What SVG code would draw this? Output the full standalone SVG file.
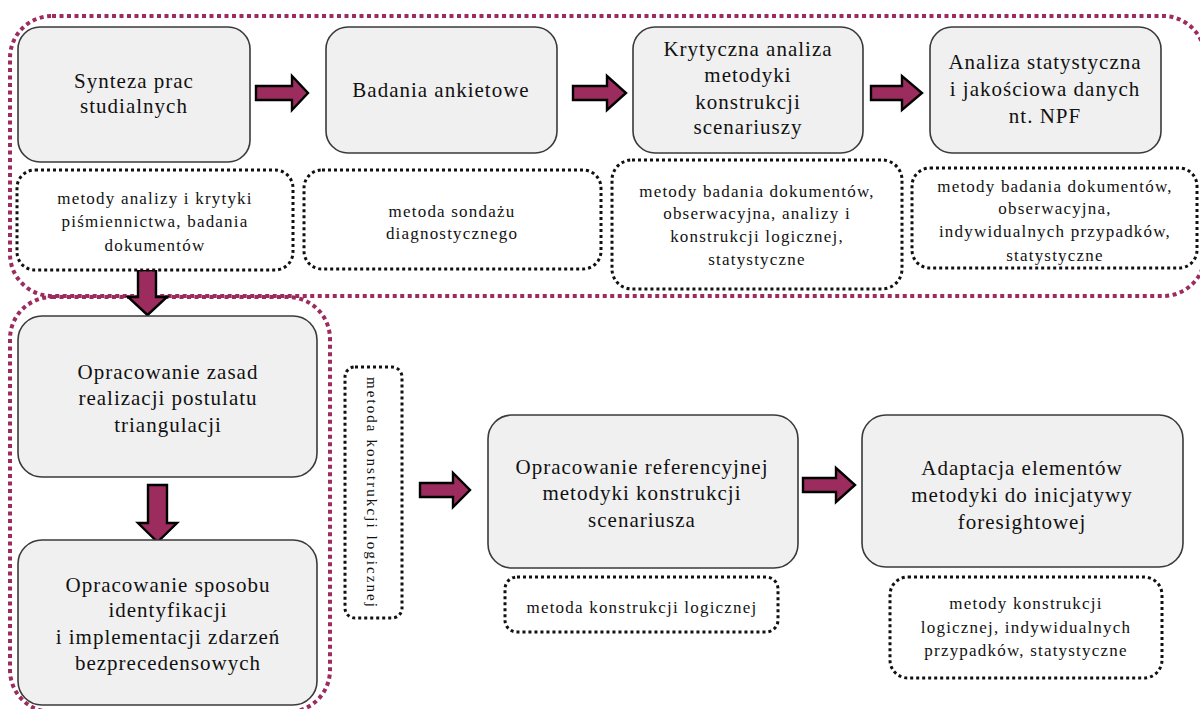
<svg xmlns="http://www.w3.org/2000/svg" width="1200" height="709" viewBox="0 0 1200 709">
  <style>
    .box { fill: #f0f0f0; stroke: #3a3a3a; stroke-width: 1.6; }
    .note { fill: #ffffff; stroke: #111; stroke-width: 3; stroke-dasharray: 3 3; }
    .group { fill: none; stroke: #9c2b5e; stroke-width: 4; stroke-dasharray: 4 3.5; }
    .arrow { fill: #9c2b5e; stroke: #000; stroke-width: 2.4; stroke-linejoin: miter; }
    .t { font-family: "Liberation Serif", "DejaVu Serif", serif; font-size: 21px; letter-spacing: 1px; fill: #111; text-anchor: middle; }
    .s { font-family: "Liberation Serif", "DejaVu Serif", serif; font-size: 17px; letter-spacing: 1.2px; fill: #111; text-anchor: middle; }
  </style>

  <!-- grouping frames -->
  <g id="frames">
    <rect class="group" x="10" y="16" width="1195" height="280" rx="42"/>
    <rect class="group" x="10" y="297" width="320" height="415" rx="42"/>
  </g>

  <!-- connectors -->
  <g id="connectors">
    <path class="arrow" d="M256,86 H292 V76 L308,93 L292,110 V100 H256 Z"/>
    <path class="arrow" d="M573,86 H607 V76 L626,93 L607,110 V100 H573 Z"/>
    <path class="arrow" d="M871,86 H902 V76 L922,93 L902,110 V100 H871 Z"/>
    <path class="arrow" d="M138,270 V297 H128 L147.5,315 L167,297 H156 V270 Z"/>
    <path class="arrow" d="M148,485 V523 H138 L157.5,542 L177,523 H167 V485 Z"/>
    <path class="arrow" d="M420,483 H453 V473 L470,490 L453,507 V497 H420 Z"/>
    <path class="arrow" d="M803,478 H836 V468 L855,485 L836,502 V492 H803 Z"/>
  </g>

  <!-- top row -->
  <g id="synteza">
    <rect class="box" x="18" y="27" width="232" height="135" rx="22"/>
    <text class="t" x="134" y="88">Synteza prac</text>
    <text class="t" x="134" y="113">studialnych</text>
  </g>
  <g id="synteza-metody">
    <rect class="note" x="17" y="170" width="276" height="100" rx="18"/>
    <text class="s" x="155" y="204">metody analizy i krytyki</text>
    <text class="s" x="155" y="227">piśmiennictwa, badania</text>
    <text class="s" x="155" y="251">dokumentów</text>
  </g>

  <g id="ankiety">
    <rect class="box" x="326" y="27" width="231" height="126" rx="22"/>
    <text class="t" x="441" y="97">Badania ankietowe</text>
  </g>
  <g id="ankiety-metody">
    <rect class="note" x="304" y="170" width="297" height="99" rx="18"/>
    <text class="s" x="452" y="217">metoda sondażu</text>
    <text class="s" x="452" y="239">diagnostycznego</text>
  </g>

  <g id="krytyczna">
    <rect class="box" x="633" y="27" width="230" height="126" rx="22"/>
    <text class="t" x="748" y="56">Krytyczna analiza</text>
    <text class="t" x="748" y="82">metodyki</text>
    <text class="t" x="748" y="109">konstrukcji</text>
    <text class="t" x="748" y="134">scenariuszy</text>
  </g>
  <g id="krytyczna-metody">
    <rect class="note" x="612" y="160" width="290" height="129" rx="20"/>
    <text class="s" x="757" y="197">metody badania dokumentów,</text>
    <text class="s" x="757" y="219">obserwacyjna, analizy i</text>
    <text class="s" x="757" y="242">konstrukcji logicznej,</text>
    <text class="s" x="757" y="265">statystyczne</text>
  </g>

  <g id="analiza">
    <rect class="box" x="930" y="27" width="231" height="126" rx="22"/>
    <text class="t" x="1045" y="69">Analiza statystyczna</text>
    <text class="t" x="1045" y="96">i jakościowa danych</text>
    <text class="t" x="1045" y="123">nt. NPF</text>
  </g>
  <g id="analiza-metody">
    <rect class="note" x="912" y="168" width="285" height="100" rx="18"/>
    <text class="s" x="1055" y="192">metody badania dokumentów,</text>
    <text class="s" x="1055" y="214">obserwacyjna,</text>
    <text class="s" x="1055" y="237">indywidualnych przypadków,</text>
    <text class="s" x="1055" y="261">statystyczne</text>
  </g>

  <!-- left column -->
  <g id="zasady">
    <rect class="box" x="18" y="316" width="299" height="161" rx="24"/>
    <text class="t" x="168" y="379">Opracowanie zasad</text>
    <text class="t" x="168" y="405">realizacji postulatu</text>
    <text class="t" x="168" y="432">triangulacji</text>
  </g>
  <g id="zdarzenia">
    <rect class="box" x="18" y="540" width="299" height="165" rx="24"/>
    <text class="t" x="168" y="592">Opracowanie sposobu</text>
    <text class="t" x="168" y="617">identyfikacji</text>
    <text class="t" x="168" y="644">i implementacji zdarzeń</text>
    <text class="t" x="168" y="670">bezprecedensowych</text>
  </g>
  <g id="lewa-metoda">
    <rect class="note" x="345" y="367" width="57" height="251" rx="10"/>
    <text font-family="Liberation Serif, DejaVu Serif, serif" font-size="15" fill="#111" text-anchor="middle" textLength="230" lengthAdjust="spacing" transform="translate(367,492) rotate(90)">metoda konstrukcji logicznej</text>
  </g>

  <!-- bottom row -->
  <g id="referencyjna">
    <rect class="box" x="488" y="415" width="310" height="153" rx="24"/>
    <text class="t" x="642" y="474">Opracowanie referencyjnej</text>
    <text class="t" x="642" y="500">metodyki konstrukcji</text>
    <text class="t" x="642" y="527">scenariusza</text>
  </g>
  <g id="referencyjna-metoda">
    <rect class="note" x="505" y="577" width="273" height="55" rx="12"/>
    <text class="s" x="642" y="613">metoda konstrukcji logicznej</text>
  </g>

  <g id="adaptacja">
    <rect class="box" x="862" y="415" width="321" height="152" rx="24"/>
    <text class="t" x="1022" y="475">Adaptacja elementów</text>
    <text class="t" x="1022" y="502">metodyki do inicjatywy</text>
    <text class="t" x="1022" y="529">foresightowej</text>
  </g>
  <g id="adaptacja-metody">
    <rect class="note" x="890" y="577" width="272" height="101" rx="18"/>
    <text class="s" x="1026" y="609">metody konstrukcji</text>
    <text class="s" x="1026" y="633">logicznej, indywidualnych</text>
    <text class="s" x="1026" y="656">przypadków, statystyczne</text>
  </g>
</svg>
